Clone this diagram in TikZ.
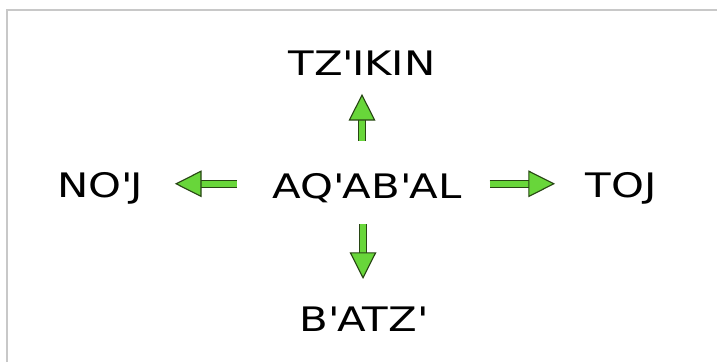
\documentclass[tikz,border=0pt]{standalone}
\usepackage{fontspec}
\setmainfont[FakeStretch=1.24]{DejaVu Sans}
\usetikzlibrary{arrows.meta}

\definecolor{leaf}{RGB}{104,214,58}
\definecolor{leafrim}{RGB}{40,70,20}
\definecolor{rim}{RGB}{200,200,200}

\newcommand{\ap}{\textquotesingle}

\tikzset{
  daysign/.style={font=\fontsize{24}{28}\selectfont, inner sep=0pt},
  greenarrow/.style 2 args={line width=4pt, draw=leaf,
    shorten <=#1, shorten >=#2,
    -{Triangle[length=19pt, width=19pt, fill=leaf, color=leafrim, line width=0.8pt]},
    preaction={draw=leafrim, line width=6pt, -, shorten <=#1, shorten >={#2+16pt}}},
}

\begin{document}
\begin{tikzpicture}[x=0.025cm, y=-0.025cm]
		\useasboundingbox (0,0) rectangle (717,362);
		\draw[rim, line width=2.1pt] (7,362) -- (7,10) -- (717,10);
		
		\node[daysign] at (367,188) (aqabal) {AQ\ap AB\ap AL};
		\node[daysign] at (362,63) (tzikin) {TZ\ap IKIN};
		\node[daysign] at (363,319) (batz) {B\ap ATZ\ap};
		\node[daysign] at (100,188) (noj) {NO\ap J};
		\node[daysign] at (621,188) (toj) {TOJ};
		
		\draw[greenarrow={25.5pt}{22.5pt}] ([yshift=3pt]aqabal.west) -- ([yshift=3pt]noj.east);
		\draw[greenarrow={20pt}{21.5pt}] ([yshift=3pt]aqabal.east) -- ([yshift=3pt]toj.west);
		\draw[greenarrow={23pt}{13pt}] (aqabal.north -| tzikin) -- (tzikin.south);
		\draw[greenarrow={15pt}{19.5pt}] (aqabal.south -| batz) -- (batz.north);
		
\end{tikzpicture}
\end{document}
